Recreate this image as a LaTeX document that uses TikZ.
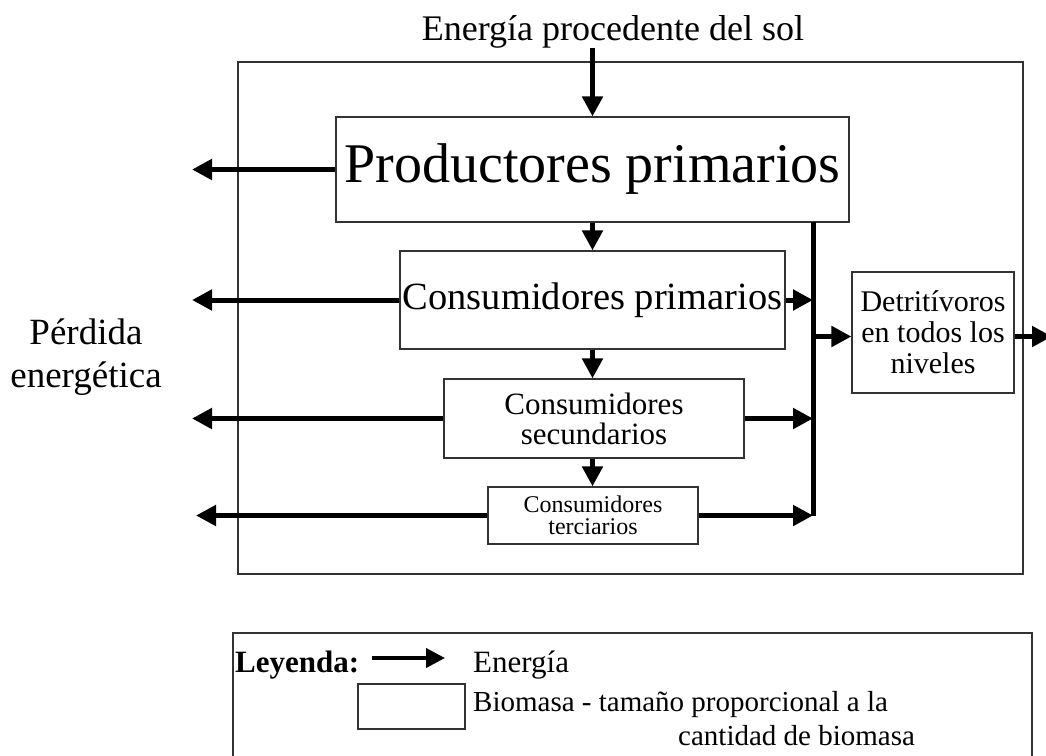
\documentclass[tikz,border=0pt]{standalone}
\usepackage{fontspec}
\setmainfont{Liberation Serif}
\usetikzlibrary{positioning,arrows.meta}
\tikzset{bio/.style={draw=black!80, line width=1.2pt, fill=white, inner sep=0pt, align=center}}
\tikzset{earr/.style={draw, line width=5pt, -{Triangle[length=20pt,width=20pt]}}}
\tikzset{eline/.style={draw, line width=5pt}}
\tikzset{frame/.style={draw=black!80, line width=1.2pt}}
\tikzset{lbl/.style={inner sep=0pt}}
\newcommand\fs[2]{\fontsize{#1}{#2}\selectfont}

\begin{document}
\begin{tikzpicture}[x=1pt,y=-1pt]
		\useasboundingbox (0,0) rectangle (1046,755);
		\draw[frame] (238,62) rectangle (1023,574);
		% niveles
		\node[bio, minimum width=513pt, minimum height=105pt, font=\fs{56}{60}] (prod) at (592.5,169.5) {Productores primarios};
		\node[bio, minimum width=385pt, minimum height=98pt, font=\fs{38.5}{42}] (cons1) at (592.5,300) {Consumidores primarios};
		\node[bio, minimum width=300pt, minimum height=79pt, font=\fs{31}{30}] (cons2) at (594,418.5) {Consumidores\\secundarios};
		\node[bio, minimum width=210pt, minimum height=57pt, font=\fs{24}{22}] (cons3) at (593,515.5) {Consumidores\\terciarios};
		\node[bio, minimum width=162pt, minimum height=121pt, font=\fs{30}{31}] (detr) at (933,332.5) {Detritívoros\\en todos los\\niveles};
		\node[lbl, anchor=base, font=\fs{36}{40}] (sol) at (613,40) {Energía procedente del sol};
		\node[lbl, align=center, font=\fs{37}{43}] (perd) at (86,357) {Pérdida\\energética};
		\coordinate (izq) at (192,0);
		\coordinate (izq2) at (196,0);
		\coordinate (bus) at (813,0);
		\coordinate (fuera) at (1052,0);
		% flujo de energia
		\draw[earr] (prod.north |- sol.south) -- (prod.north);
		\draw[earr] (prod.south) -- (cons1.north);
		\draw[earr] (cons1.south) -- (cons1.south |- cons2.north);
		\draw[earr] (cons2.south -| cons1.south) -- (cons1.south |- cons3.north);
		\draw[earr] (prod.west) -- (prod.west -| izq);
		\draw[earr] (cons1.west) -- (cons1.west -| izq);
		\draw[earr] (cons2.west) -- (cons2.west -| izq);
		\draw[earr] (cons3.west) -- (cons3.west -| izq2);
		\draw[eline] ([yshift=1pt]prod.south -| bus) -- (cons3.east -| bus);
		\draw[earr] (cons1.east) -- (cons1.east -| bus);
		\draw[earr] (cons2.east) -- (cons2.east -| bus);
		\draw[earr] (cons3.east) -- (cons3.east -| bus);
		\draw[earr] ([yshift=-4pt]detr.west -| bus) -- ([yshift=-4pt]detr.west);
		\draw[earr] ([yshift=-4pt]detr.east) -- ([yshift=-4pt]detr.east -| fuera);
		% leyenda
		\draw[frame] (233,770) |- (1032,633) -- (1032,770);
		\node[lbl, anchor=base west, font=\fs{31}{34}\bfseries] (ley) at (235,672) {Leyenda:};
		\coordinate (la) at (372,658);
		\coordinate (lb) at (445,658);
		\draw[earr, line width=4pt, -{Triangle[length=19pt,width=19pt]}] (la) -- (lb);
		\node[lbl, anchor=base west, font=\fs{31}{34}] (energia) at (473,672) {Energía};
		\node[bio, minimum width=107pt, minimum height=45pt] (muestra) at (411.5,706.5) {};
		\node[lbl, anchor=north west, align=left, font=\fs{29}{34}] (biomasa) at (473,691) {Biomasa - tamaño proporcional a la\\\hspace*{205pt}cantidad de biomasa};
	\end{tikzpicture}
\end{document}
